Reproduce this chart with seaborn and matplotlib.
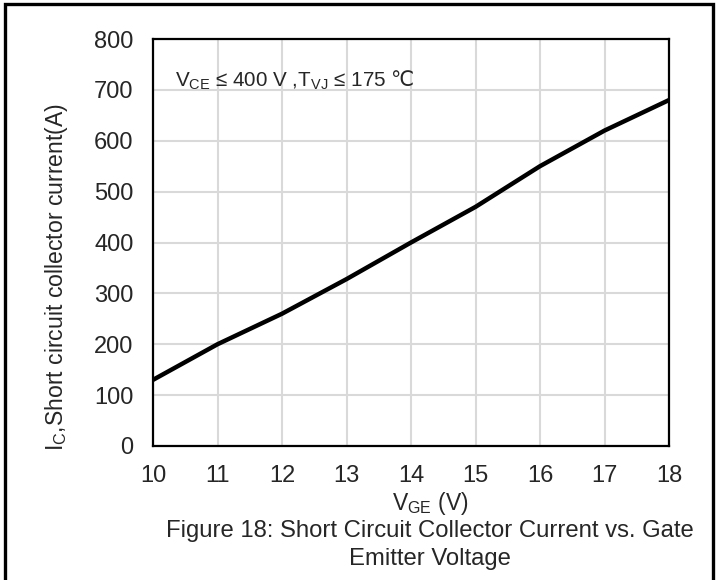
import numpy as np
import pandas as pd
import matplotlib.pyplot as plt
import seaborn as sns
from matplotlib.patches import Rectangle

# data
vge = [10, 11, 12, 13, 14, 15, 16, 17, 18]
ic = [130, 200, 260, 328, 400, 470, 550, 620, 680]
x_ticks = [10, 11, 12, 13, 14, 15, 16, 17, 18]
y_ticks = [0, 100, 200, 300, 400, 500, 600, 700, 800]

sns.set_style("white")
plt.rcParams['font.family'] = ['Liberation Sans', 'DejaVu Sans']
plt.rcParams['mathtext.fontset'] = 'custom'
plt.rcParams['mathtext.rm'] = 'Liberation Sans'
plt.rcParams['mathtext.it'] = 'Liberation Sans'
plt.rcParams['mathtext.sf'] = 'DejaVu Sans'

df = pd.DataFrame({'VGE': vge, 'IC': ic})

fig = plt.figure(figsize=(7.2, 5.8), dpi=100)
ax = fig.add_axes([153 / 720, 1 - 446 / 580, (669 - 153) / 720, (446 - 39) / 580])

sns.lineplot(data=df, x='VGE', y='IC', ax=ax, color='black', linewidth=3.2)

ax.set_xlim(10, 18)
ax.set_ylim(0, 800)
ax.set_xticks(x_ticks)
ax.set_yticks(y_ticks)
ax.tick_params(axis='both', length=0, labelsize=17, pad=14)
ax.grid(True, color='#d9d9d9', linewidth=1.5)
for s in ax.spines.values():
    s.set_color('black')
    s.set_linewidth(1.6)
ax.set_xlabel('')
ax.set_ylabel('')

ax.text(22 / 516, (446 - 87) / 407,
        r'$\mathrm{V_{CE}}$ ≤ 400 V ,$\mathrm{T_{VJ}}$ ≤ 175 $\mathsf{℃}$',
        transform=ax.transAxes, fontsize=14.9, va='baseline', ha='left')

fig.text(430 / 720, 1 - 510 / 580, r'$\mathrm{V_{GE}}$ (V)', fontsize=16.5,
         ha='center', va='baseline')
fig.text(57 / 720, 1 - 277 / 580, r'$\mathrm{I_{C}}$,Short circuit collector current(A)',
         fontsize=16.6, rotation=90, ha='center', va='center')
fig.text(430 / 720, 1 - 537 / 580,
         'Figure 18: Short Circuit Collector Current vs. Gate',
         fontsize=17.2, ha='center', va='baseline')
fig.text(430 / 720, 1 - 565 / 580, 'Emitter Voltage',
         fontsize=17.2, ha='center', va='baseline')

# outer frame
fig.patches.append(Rectangle((5 / 720, -0.02), 708 / 720, 1 - 4 / 580 + 0.02,
                             transform=fig.transFigure, fill=False,
                             edgecolor='black', linewidth=2.4))

fig.savefig('out.png', dpi=100)
